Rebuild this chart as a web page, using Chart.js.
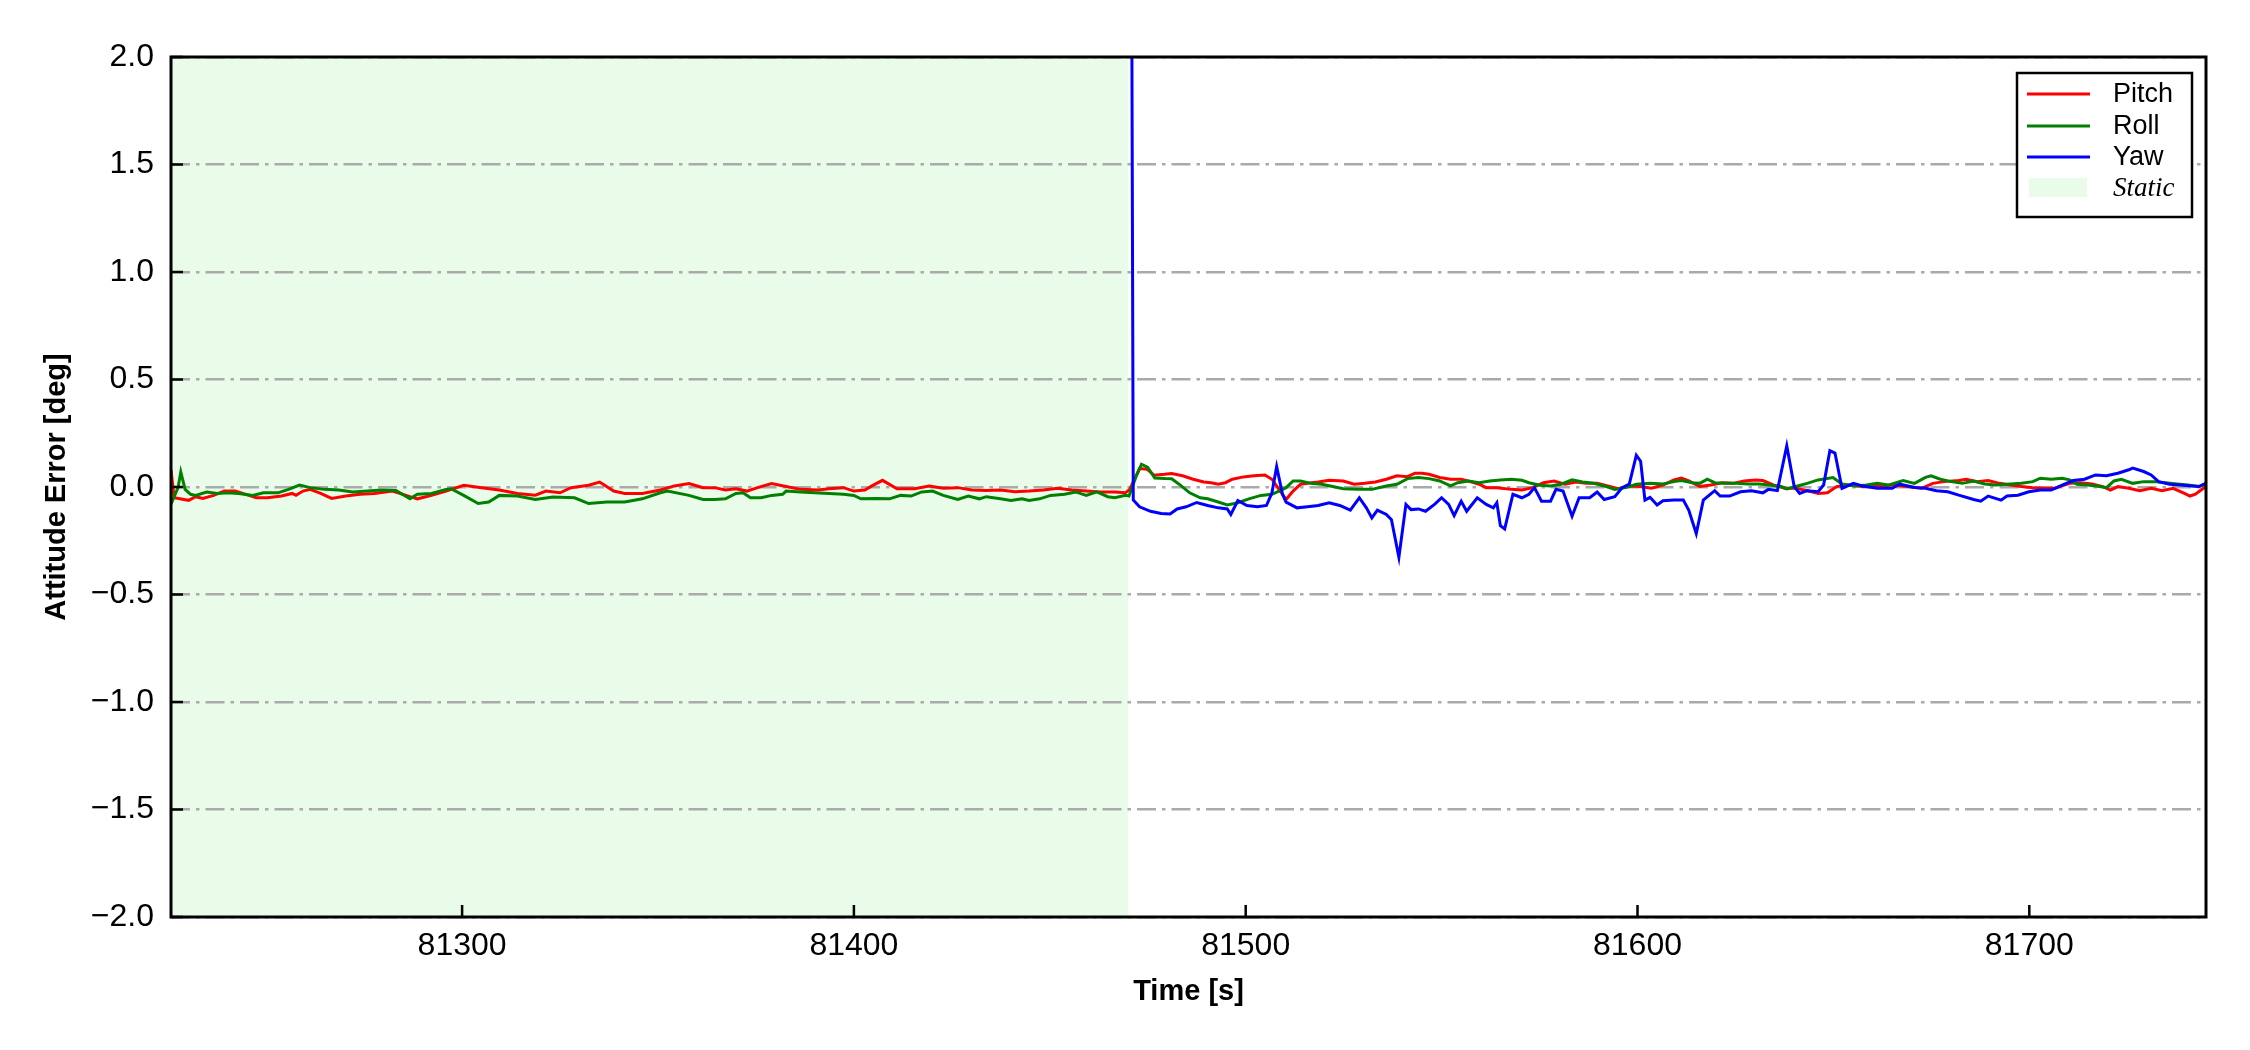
<!DOCTYPE html>
<html>
<head>
<meta charset="utf-8">
<script src="https://cdn.jsdelivr.net/npm/chart.js@4.4.0/dist/chart.umd.min.js"></script>
<style>
  html, body { margin: 0; padding: 0; background: #ffffff; }
  #wrap { width: 2250px; height: 1050px; }
</style>
</head>
<body>
<div id="wrap"><canvas id="attitudeError" width="2250" height="1050"></canvas></div>
<script>
// axis limits and ticks
const xMin = 81225.7;
const xMax = 81745.1;
const xTicks = [81300, 81400, 81500, 81600, 81700];
const yTicks = [-2.0, -1.5, -1.0, -0.5, 0.0, 0.5, 1.0, 1.5, 2.0];
const staticSpan = [81225.7, 81470.0];

// Pitch
const pitchT = [81225.7, 81226.5, 81230.2, 81232.0, 81233.8, 81236.6, 81239.3, 81242.1, 81244.8, 81247.5,
  81250.3, 81253.9, 81256.6, 81257.6, 81259.4, 81261.2, 81263.9, 81266.7, 81270.3, 81274.0,
  81277.6, 81282.2, 81286.7, 81288.6, 81292.2, 81295.9, 81300.4, 81305.0, 81309.5, 81314.1,
  81318.7, 81321.4, 81325.0, 81327.8, 81332.3, 81335.1, 81338.7, 81341.5, 81346.0, 81350.6,
  81354.2, 81357.9, 81361.5, 81364.4, 81367.2, 81369.9, 81372.7, 81375.4, 81379.0, 81382.7,
  81386.3, 81390.9, 81393.6, 81397.3, 81400.0, 81402.8, 81404.6, 81407.3, 81411.0, 81415.5,
  81419.2, 81422.8, 81426.5, 81430.1, 81433.8, 81437.4, 81441.1, 81444.7, 81448.4, 81452.0,
  81455.6, 81459.3, 81463.0, 81466.6, 81469.3, 81470.4, 81472.9, 81474.8, 81476.6, 81479.3,
  81481.1, 81483.9, 81486.6, 81489.3, 81491.2, 81493.0, 81494.8, 81496.6, 81499.4, 81502.1,
  81504.9, 81506.7, 81508.5, 81510.3, 81512.1, 81514.0, 81515.8, 81518.5, 81521.3, 81524.9,
  81527.7, 81530.4, 81533.1, 81535.9, 81538.6, 81541.3, 81543.2, 81545.0, 81546.8, 81549.5,
  81552.3, 81555.0, 81557.7, 81559.6, 81561.4, 81564.1, 81567.8, 81570.5, 81573.3, 81576.0,
  81578.7, 81581.5, 81584.2, 81586.9, 81589.7, 81592.4, 81595.1, 81597.9, 81600.6, 81603.6,
  81606.5, 81609.3, 81611.2, 81613.1, 81615.9, 81618.7, 81621.6, 81624.4, 81627.2, 81630.1,
  81632.0, 81634.8, 81637.6, 81640.4, 81643.3, 81646.1, 81648.5, 81650.8, 81653.7, 81657.4,
  81661.2, 81665.0, 81668.8, 81672.5, 81675.4, 81678.2, 81682.0, 81683.9, 81686.7, 81689.5,
  81692.4, 81695.2, 81698.0, 81700.9, 81703.7, 81706.5, 81710.3, 81713.1, 81716.0, 81718.8,
  81720.7, 81722.6, 81725.4, 81728.2, 81731.1, 81733.9, 81736.7, 81739.6, 81741.0, 81742.4,
  81745.0];
const pitchV = [0.080, -0.050, -0.062, -0.045, -0.053, -0.039, -0.019, -0.019, -0.034, -0.050,
  -0.050, -0.042, -0.030, -0.039, -0.019, -0.011, -0.030, -0.053, -0.042, -0.034,
  -0.030, -0.019, -0.045, -0.055, -0.039, -0.019, 0.008, -0.003, -0.014, -0.030,
  -0.038, -0.019, -0.027, -0.003, 0.008, 0.023, -0.019, -0.030, -0.030, -0.014,
  0.005, 0.016, -0.003, -0.003, -0.014, -0.008, -0.019, -0.003, 0.016, 0.002,
  -0.011, -0.014, -0.008, -0.003, -0.019, -0.014, 0.005, 0.031, -0.008, -0.008,
  0.005, -0.006, -0.003, -0.014, -0.016, -0.014, -0.022, -0.019, -0.014, -0.006,
  -0.014, -0.019, -0.023, -0.023, -0.027, -0.011, 0.086, 0.083, 0.055, 0.059,
  0.063, 0.052, 0.036, 0.023, 0.020, 0.013, 0.020, 0.036, 0.047, 0.052,
  0.056, 0.036, -0.011, -0.058, -0.019, 0.013, 0.017, 0.023, 0.031, 0.028,
  0.013, 0.017, 0.023, 0.036, 0.052, 0.048, 0.064, 0.064, 0.059, 0.044,
  0.036, 0.036, 0.023, 0.013, -0.003, -0.003, -0.011, -0.014, -0.003, 0.020,
  0.028, 0.013, 0.023, 0.017, 0.017, 0.005, -0.008, 0.005, 0.002, -0.006,
  0.009, 0.033, 0.041, 0.028, 0.002, 0.009, 0.020, 0.017, 0.028, 0.033,
  0.030, 0.009, -0.006, -0.006, -0.017, -0.030, -0.027, 0.002, 0.009, 0.002,
  0.002, 0.009, 0.002, -0.006, 0.017, 0.025, 0.030, 0.036, 0.025, 0.030,
  0.017, 0.009, 0.002, -0.003, -0.006, -0.006, 0.017, 0.020, 0.014, 0.002,
  -0.014, 0.002, -0.006, -0.017, -0.006, -0.017, -0.006, -0.030, -0.042, -0.033,
  0.002];

// Roll
const rollT = [81225.7, 81227.5, 81228.2, 81229.3, 81230.7, 81232.0, 81234.8, 81237.5, 81240.2, 81243.0,
  81246.6, 81249.3, 81253.0, 81255.7, 81258.5, 81261.2, 81264.9, 81268.5, 81272.1, 81275.8,
  81279.4, 81283.1, 81286.7, 81288.6, 81292.2, 81295.9, 81297.2, 81300.4, 81304.1, 81306.8,
  81309.5, 81314.1, 81318.7, 81323.2, 81328.7, 81332.3, 81336.9, 81341.5, 81346.0, 81350.6,
  81352.4, 81357.9, 81361.5, 81364.4, 81367.2, 81369.9, 81371.7, 81373.6, 81376.3, 81379.0,
  81381.8, 81382.7, 81386.3, 81390.0, 81393.6, 81397.3, 81400.0, 81401.8, 81405.5, 81409.1,
  81411.9, 81414.6, 81417.3, 81420.1, 81422.8, 81426.5, 81429.2, 81432.0, 81433.8, 81437.4,
  81440.1, 81442.9, 81444.7, 81447.4, 81450.2, 81453.8, 81456.6, 81459.3, 81462.0, 81464.8,
  81466.6, 81469.3, 81470.2, 81472.1, 81473.4, 81475.0, 81476.8, 81479.3, 81481.1, 81483.0,
  81485.7, 81488.4, 81490.3, 81493.0, 81495.3, 81498.0, 81500.8, 81503.9, 81506.7, 81508.5,
  81510.3, 81512.1, 81514.0, 81516.7, 81519.4, 81522.2, 81524.9, 81528.6, 81532.2, 81535.9,
  81538.6, 81541.3, 81544.1, 81546.8, 81549.5, 81552.3, 81554.1, 81556.8, 81559.6, 81562.3,
  81565.0, 81567.8, 81570.5, 81572.3, 81575.1, 81577.8, 81580.5, 81583.3, 81586.0, 81588.8,
  81591.5, 81594.2, 81597.0, 81599.7, 81603.3, 81606.5, 81609.3, 81611.2, 81614.0, 81615.9,
  81617.8, 81619.7, 81622.5, 81625.3, 81628.2, 81631.0, 81633.8, 81636.7, 81638.1, 81640.4,
  81643.3, 81646.1, 81649.9, 81652.2, 81655.6, 81658.4, 81661.2, 81664.0, 81667.8, 81670.7,
  81673.5, 81674.9, 81677.3, 81680.1, 81682.9, 81685.8, 81688.6, 81691.4, 81695.2, 81698.0,
  81700.9, 81702.8, 81705.6, 81708.4, 81710.3, 81712.2, 81715.0, 81717.9, 81719.7, 81721.6,
  81723.5, 81726.4, 81729.2, 81732.0, 81734.8, 81737.7, 81740.5, 81743.3, 81745.0];
const rollV = [-0.080, -0.003, 0.070, -0.011, -0.034, -0.039, -0.023, -0.030, -0.027, -0.030,
  -0.039, -0.027, -0.027, -0.011, 0.009, -0.003, -0.011, -0.014, -0.023, -0.019,
  -0.014, -0.016, -0.055, -0.034, -0.030, -0.011, -0.008, -0.039, -0.077, -0.070,
  -0.039, -0.042, -0.058, -0.047, -0.050, -0.077, -0.070, -0.070, -0.055, -0.027,
  -0.019, -0.039, -0.058, -0.058, -0.055, -0.030, -0.027, -0.050, -0.050, -0.039,
  -0.034, -0.019, -0.023, -0.027, -0.030, -0.034, -0.039, -0.055, -0.053, -0.055,
  -0.039, -0.042, -0.023, -0.019, -0.039, -0.058, -0.042, -0.055, -0.045, -0.055,
  -0.063, -0.055, -0.063, -0.055, -0.039, -0.034, -0.023, -0.039, -0.023, -0.045,
  -0.050, -0.039, -0.042, 0.052, 0.106, 0.091, 0.042, 0.039, 0.038, 0.013,
  -0.027, -0.050, -0.055, -0.070, -0.083, -0.073, -0.055, -0.039, -0.034, -0.019,
  -0.003, 0.028, 0.028, 0.017, 0.013, 0.002, -0.008, -0.011, -0.011, 0.005,
  0.013, 0.039, 0.044, 0.039, 0.028, 0.005, 0.020, 0.028, 0.020, 0.028,
  0.033, 0.036, 0.031, 0.020, 0.008, 0.005, 0.013, 0.033, 0.023, 0.017,
  0.005, -0.011, -0.003, 0.013, 0.018, 0.014, 0.025, 0.030, 0.020, 0.017,
  0.036, 0.020, 0.017, 0.017, 0.014, 0.014, 0.009, 0.002, -0.009, 0.002,
  0.017, 0.033, 0.044, 0.014, 0.005, 0.009, 0.017, 0.009, 0.030, 0.017,
  0.045, 0.052, 0.036, 0.025, 0.017, 0.028, 0.014, 0.009, 0.014, 0.017,
  0.025, 0.041, 0.036, 0.041, 0.033, 0.013, 0.009, 0.002, -0.003, 0.028,
  0.036, 0.017, 0.025, 0.025, 0.020, 0.014, 0.009, 0.002, 0.014];

// Yaw (starts when the static phase ends, first value is off the top of the axis)
const yawT = [81470.3, 81471.3, 81472.9, 81475.7, 81478.4, 81480.7, 81482.5, 81484.8, 81487.5, 81490.3,
  81493.0, 81495.3, 81496.2, 81498.0, 81500.3, 81503.0, 81505.3, 81506.7, 81507.9, 81509.4,
  81510.3, 81513.1, 81515.8, 81518.5, 81521.3, 81524.0, 81526.7, 81529.0, 81530.8, 81532.2,
  81533.6, 81535.9, 81537.2, 81539.1, 81540.9, 81542.2, 81544.1, 81545.9, 81548.2, 81550.0,
  81551.8, 81553.2, 81555.0, 81556.4, 81559.1, 81561.4, 81563.2, 81564.1, 81565.0, 81566.1,
  81568.2, 81570.5, 81572.3, 81573.7, 81575.5, 81577.8, 81579.2, 81581.0, 81583.3, 81585.1,
  81587.8, 81589.7, 81591.5, 81594.2, 81596.1, 81597.9, 81599.7, 81600.8, 81601.9, 81603.2,
  81605.0, 81606.5, 81609.3, 81611.7, 81613.1, 81615.0, 81616.8, 81619.7, 81621.1, 81623.5,
  81626.3, 81629.1, 81632.0, 81633.4, 81635.7, 81638.1, 81640.0, 81641.4, 81643.3, 81646.1,
  81647.5, 81649.1, 81650.4, 81652.2, 81655.1, 81657.4, 81661.2, 81665.0, 81666.9, 81670.7,
  81673.5, 81676.3, 81679.2, 81682.0, 81685.8, 81687.6, 81689.5, 81692.8, 81694.3, 81697.1,
  81699.9, 81702.8, 81705.6, 81708.4, 81711.2, 81714.1, 81716.9, 81719.7, 81722.6, 81725.4,
  81726.4, 81729.2, 81731.1, 81733.0, 81735.8, 81738.6, 81741.5, 81743.3, 81745.0];
const yawV = [6.0, -0.060, -0.092, -0.113, -0.123, -0.125, -0.102, -0.092, -0.072, -0.086,
  -0.097, -0.102, -0.128, -0.063, -0.086, -0.092, -0.086, -0.027, 0.095, -0.034,
  -0.070, -0.097, -0.092, -0.086, -0.073, -0.086, -0.108, -0.050, -0.097, -0.144,
  -0.108, -0.128, -0.152, -0.327, -0.081, -0.105, -0.102, -0.113, -0.081, -0.050,
  -0.081, -0.133, -0.066, -0.113, -0.050, -0.081, -0.097, -0.073, -0.180, -0.195,
  -0.034, -0.050, -0.034, -0.003, -0.066, -0.066, -0.011, -0.019, -0.136, -0.050,
  -0.050, -0.023, -0.058, -0.045, -0.003, 0.013, 0.148, 0.120, -0.061, -0.048,
  -0.084, -0.064, -0.061, -0.061, -0.108, -0.217, -0.061, -0.017, -0.042, -0.042,
  -0.022, -0.017, -0.027, -0.011, -0.017, 0.192, 0.002, -0.030, -0.017, -0.022,
  0.009, 0.169, 0.158, -0.006, 0.017, 0.005, -0.006, -0.006, 0.013, -0.002,
  -0.006, -0.017, -0.022, -0.038, -0.058, -0.066, -0.042, -0.061, -0.042, -0.038,
  -0.022, -0.014, -0.014, 0.009, 0.030, 0.036, 0.056, 0.052, 0.064, 0.080,
  0.088, 0.072, 0.056, 0.025, 0.013, 0.009, 0.005, 0.002, 0.017];

const toPoints = (ts, vs) => ts.map((t, i) => ({ x: t, y: vs[i] }));

// shaded static phase, frame, inward ticks and the legend box
const decorPlugin = {
    id: 'decor',
    beforeDraw(chart) {
        const { ctx, chartArea, scales } = chart;
        const x0 = scales.x.getPixelForValue(staticSpan[0]);
        const x1 = scales.x.getPixelForValue(staticSpan[1]);
        ctx.save();
        ctx.fillStyle = 'rgba(144, 238, 144, 0.2)';
        ctx.fillRect(x0, chartArea.top, x1 - x0, chartArea.bottom - chartArea.top);
        ctx.restore();
    },
    afterDraw(chart) {
        const { ctx, chartArea, scales } = chart;
        ctx.save();
        ctx.strokeStyle = '#000';
        ctx.lineWidth = 2.5;
        ctx.beginPath();
        scales.x.ticks.forEach(t => {
            const px = scales.x.getPixelForValue(t.value);
            ctx.moveTo(px, chartArea.bottom);
            ctx.lineTo(px, chartArea.bottom - 12);
        });
        scales.y.ticks.forEach(t => {
            const py = scales.y.getPixelForValue(t.value);
            ctx.moveTo(chartArea.left, py);
            ctx.lineTo(chartArea.left + 12, py);
        });
        ctx.stroke();
        ctx.lineWidth = 3;
        ctx.strokeRect(chartArea.left, chartArea.top, chartArea.right - chartArea.left, chartArea.bottom - chartArea.top);

        // legend
        const bw = 175, bh = 144;
        const bx = chartArea.right - 14 - bw;
        const by = chartArea.top + 16;
        ctx.fillStyle = '#fff';
        ctx.fillRect(bx, by, bw, bh);
        ctx.lineWidth = 2.5;
        ctx.strokeRect(bx, by, bw, bh);
        const rowY = [by + 21, by + 53, by + 84];
        ctx.textBaseline = 'middle';
        ctx.textAlign = 'left';
        chart.data.datasets.forEach((ds, i) => {
            ctx.strokeStyle = ds.borderColor;
            ctx.lineWidth = 3;
            ctx.beginPath();
            ctx.moveTo(bx + 10, rowY[i]);
            ctx.lineTo(bx + 73, rowY[i]);
            ctx.stroke();
            ctx.fillStyle = '#000';
            ctx.font = '27px "Liberation Sans", Arial, sans-serif';
            ctx.fillText(ds.label, bx + 96, rowY[i] + 1);
        });
        ctx.fillStyle = 'rgba(144, 238, 144, 0.2)';
        ctx.fillRect(bx + 12, by + 105, 58, 19);
        ctx.fillStyle = '#000';
        ctx.font = 'italic 27px "Liberation Serif", "Times New Roman", serif';
        ctx.fillText('Static', bx + 96, by + 116);
        ctx.restore();
    }
};

Chart.defaults.font.family = '"Liberation Sans", Arial, sans-serif';
Chart.defaults.color = '#000';

const ctx = document.getElementById('attitudeError').getContext('2d');
new Chart(ctx, {
    type: 'line',
    data: {
        datasets: [
            {
                label: 'Pitch',
                data: toPoints(pitchT, pitchV),
                borderColor: '#ff0000',
                borderWidth: 3,
                pointRadius: 0,
                tension: 0,
                order: 3
            },
            {
                label: 'Roll',
                data: toPoints(rollT, rollV),
                borderColor: '#008000',
                borderWidth: 3,
                pointRadius: 0,
                tension: 0,
                order: 2
            },
            {
                label: 'Yaw',
                data: toPoints(yawT, yawV),
                borderColor: '#0000ff',
                borderWidth: 3,
                pointRadius: 0,
                tension: 0,
                order: 1
            }
        ]
    },
    options: {
        responsive: false,
        animation: false,
        devicePixelRatio: 1,
        layout: {
            padding: { left: 0, top: 57, right: 44, bottom: 0 }
        },
        plugins: {
            legend: { display: false },
            tooltip: { enabled: false }
        },
        scales: {
            x: {
                type: 'linear',
                min: xMin,
                max: xMax,
                afterFit(scale) { scale.height = 133; },
                afterBuildTicks(scale) { scale.ticks = xTicks.map(v => ({ value: v })); },
                grid: { display: false, drawTicks: false },
                border: { display: false },
                ticks: {
                    padding: 10,
                    font: { size: 32 },
                    callback: v => String(v)
                },
                title: {
                    display: true,
                    text: 'Time [s]',
                    font: { size: 29, weight: 'bold' },
                    padding: { top: 0, bottom: 41 }
                }
            },
            y: {
                min: -2,
                max: 2,
                afterFit(scale) { scale.width = 171; },
                afterBuildTicks(scale) { scale.ticks = yTicks.map(v => ({ value: v })); },
                grid: {
                    color: '#aaaaaa',
                    lineWidth: 2.5,
                    drawTicks: false
                },
                border: { display: false, dash: [19, 6, 3.5, 6] },
                ticks: {
                    padding: 17,
                    font: { size: 32 },
                    callback: v => v.toFixed(1).replace('-', '\u2212')
                },
                title: {
                    display: true,
                    text: 'Attitude Error [deg]',
                    font: { size: 29, weight: 'bold' },
                    padding: { top: 40, bottom: 0 }
                }
            }
        }
    },
    plugins: [decorPlugin]
});
</script>
</body>
</html>
